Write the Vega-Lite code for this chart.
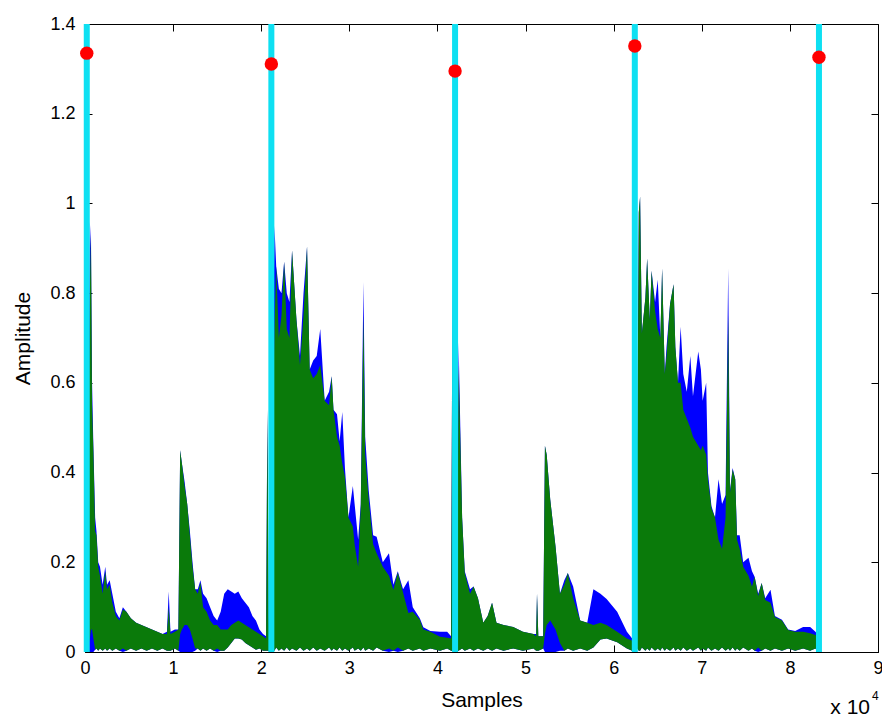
{
  "$schema": "https://vega.github.io/schema/vega-lite/v6.json",
  "width": 793,
  "height": 628,
  "autosize": "none",
  "padding": {"left": 85, "top": 24, "right": 4, "bottom": 66},
  "background": "white",
  "config": {
    "view": {"stroke": "#000000", "strokeWidth": 1},
    "axis": {
      "grid": false,
      "labelFont": "Liberation Sans",
      "titleFont": "Liberation Sans",
      "labelColor": "#000000",
      "titleColor": "#000000",
      "tickColor": "#000000",
      "domainColor": "#000000",
      "titleFontWeight": "normal",
      "labelFontSize": 18,
      "titleFontSize": 21,
      "tickSize": -7,
      "zindex": 1
    }
  },
  "datasets": {
    "sig": [
      {"s":300,"b":0.30,"g":0.30,"bl":0,"gl":0.01},
      {"s":550,"b":0.96,"g":0.80,"bl":0,"gl":0.03},
      {"s":680,"b":0.90,"g":0.93,"bl":0,"gl":0.05},
      {"s":800,"b":0.60,"g":0.55,"bl":0,"gl":0.05},
      {"s":950,"b":0.46,"g":0.45,"bl":0,"gl":0.03},
      {"s":1150,"b":0.30,"g":0.27,"bl":0.005,"gl":0.005},
      {"s":1300,"b":0.27,"g":0.26,"bl":0.008,"gl":0.008},
      {"s":1500,"b":0.20,"g":0.19,"bl":0.003,"gl":0.003},
      {"s":1700,"b":0.19,"g":0.17,"bl":0.008,"gl":0.008},
      {"s":2000,"b":0.15,"g":0.13,"bl":0.003,"gl":0.003},
      {"s":2300,"b":0.19,"g":0.18,"bl":0.008,"gl":0.008},
      {"s":2500,"b":0.15,"g":0.14,"bl":0.003,"gl":0.003},
      {"s":2800,"b":0.16,"g":0.15,"bl":0.008,"gl":0.008},
      {"s":3100,"b":0.13,"g":0.11,"bl":0.003,"gl":0.003},
      {"s":3500,"b":0.09,"g":0.08,"bl":0.008,"gl":0.008},
      {"s":3900,"b":0.075,"g":0.07,"bl":0.003,"gl":0.003},
      {"s":4300,"b":0.10,"g":0.095,"bl":0,"gl":0.008},
      {"s":4700,"b":0.09,"g":0.09,"bl":0.003,"gl":0.003},
      {"s":5200,"b":0.075,"g":0.075,"bl":0.008,"gl":0.008},
      {"s":5800,"b":0.065,"g":0.065,"bl":0.003,"gl":0.003},
      {"s":6400,"b":0.06,"g":0.06,"bl":0.008,"gl":0.008},
      {"s":7000,"b":0.055,"g":0.055,"bl":0.003,"gl":0.003},
      {"s":7600,"b":0.05,"g":0.05,"bl":0.008,"gl":0.008},
      {"s":8200,"b":0.045,"g":0.045,"bl":0.003,"gl":0.003},
      {"s":8800,"b":0.04,"g":0.04,"bl":0.008,"gl":0.008},
      {"s":9300,"b":0.045,"g":0.04,"bl":0.003,"gl":0.003},
      {"s":9500,"b":0.135,"g":0.10,"bl":0.003,"gl":0.003},
      {"s":9700,"b":0.045,"g":0.04,"bl":0.003,"gl":0.003},
      {"s":10200,"b":0.05,"g":0.045,"bl":0.008,"gl":0.008},
      {"s":10600,"b":0.05,"g":0.05,"bl":0.003,"gl":0.003},
      {"s":10800,"b":0.45,"g":0.45,"bl":0,"gl":0.04},
      {"s":11000,"b":0.42,"g":0.42,"bl":0,"gl":0.05},
      {"s":11300,"b":0.38,"g":0.37,"bl":0,"gl":0.06},
      {"s":11600,"b":0.33,"g":0.33,"bl":0,"gl":0.06},
      {"s":11900,"b":0.27,"g":0.26,"bl":0,"gl":0.05},
      {"s":12200,"b":0.20,"g":0.19,"bl":0,"gl":0.03},
      {"s":12500,"b":0.14,"g":0.14,"bl":0.003,"gl":0.008},
      {"s":12800,"b":0.14,"g":0.13,"bl":0.008,"gl":0.008},
      {"s":13100,"b":0.16,"g":0.155,"bl":0.003,"gl":0.003},
      {"s":13400,"b":0.13,"g":0.10,"bl":0.008,"gl":0.008},
      {"s":13800,"b":0.12,"g":0.09,"bl":0.003,"gl":0.003},
      {"s":14200,"b":0.10,"g":0.07,"bl":0.008,"gl":0.008},
      {"s":14600,"b":0.08,"g":0.06,"bl":0.003,"gl":0.003},
      {"s":15000,"b":0.07,"g":0.06,"bl":0,"gl":0.008},
      {"s":15400,"b":0.09,"g":0.05,"bl":0.003,"gl":0.003},
      {"s":15800,"b":0.13,"g":0.05,"bl":0.003,"gl":0.003},
      {"s":16200,"b":0.14,"g":0.05,"bl":0.01,"gl":0.01},
      {"s":16600,"b":0.135,"g":0.06,"bl":0.02,"gl":0.02},
      {"s":17000,"b":0.13,"g":0.065,"bl":0.03,"gl":0.03},
      {"s":17400,"b":0.135,"g":0.07,"bl":0.03,"gl":0.03},
      {"s":17800,"b":0.12,"g":0.065,"bl":0.028,"gl":0.028},
      {"s":18200,"b":0.11,"g":0.06,"bl":0.02,"gl":0.02},
      {"s":18600,"b":0.10,"g":0.055,"bl":0.015,"gl":0.015},
      {"s":19000,"b":0.08,"g":0.05,"bl":0.01,"gl":0.01},
      {"s":19400,"b":0.07,"g":0.045,"bl":0.005,"gl":0.005},
      {"s":19800,"b":0.05,"g":0.04,"bl":0.008,"gl":0.008},
      {"s":20200,"b":0.04,"g":0.035,"bl":0.003,"gl":0.003},
      {"s":20550,"b":0.035,"g":0.03,"bl":0.003,"gl":0.003},
      {"s":20700,"b":0.54,"g":0.54,"bl":0.003,"gl":0.003},
      {"s":20850,"b":0.05,"g":0.05,"bl":0.003,"gl":0.003},
      {"s":21200,"b":0.35,"g":0.35,"bl":0.008,"gl":0.008},
      {"s":21500,"b":0.95,"g":0.72,"bl":0.003,"gl":0.003},
      {"s":21700,"b":0.86,"g":0.86,"bl":0.01,"gl":0.01},
      {"s":22000,"b":0.81,"g":0.70,"bl":0.003,"gl":0.003},
      {"s":22300,"b":0.80,"g":0.75,"bl":0.008,"gl":0.008},
      {"s":22600,"b":0.87,"g":0.87,"bl":0.003,"gl":0.003},
      {"s":22900,"b":0.80,"g":0.72,"bl":0.01,"gl":0.01},
      {"s":23200,"b":0.78,"g":0.70,"bl":0.003,"gl":0.003},
      {"s":23500,"b":0.895,"g":0.895,"bl":0.008,"gl":0.008},
      {"s":24000,"b":0.74,"g":0.74,"bl":0.003,"gl":0.003},
      {"s":24400,"b":0.66,"g":0.64,"bl":0.01,"gl":0.01},
      {"s":24800,"b":0.80,"g":0.75,"bl":0.003,"gl":0.003},
      {"s":25200,"b":0.904,"g":0.904,"bl":0.008,"gl":0.008},
      {"s":25500,"b":0.63,"g":0.63,"bl":0.003,"gl":0.003},
      {"s":25900,"b":0.65,"g":0.61,"bl":0.01,"gl":0.01},
      {"s":26300,"b":0.66,"g":0.62,"bl":0.003,"gl":0.003},
      {"s":26700,"b":0.72,"g":0.64,"bl":0.008,"gl":0.008},
      {"s":27200,"b":0.56,"g":0.56,"bl":0.003,"gl":0.003},
      {"s":27700,"b":0.58,"g":0.55,"bl":0.01,"gl":0.01},
      {"s":28000,"b":0.615,"g":0.615,"bl":0.003,"gl":0.003},
      {"s":28200,"b":0.54,"g":0.54,"bl":0.008,"gl":0.008},
      {"s":28600,"b":0.53,"g":0.48,"bl":0.003,"gl":0.003},
      {"s":28900,"b":0.47,"g":0.46,"bl":0.01,"gl":0.01},
      {"s":29200,"b":0.535,"g":0.42,"bl":0.003,"gl":0.003},
      {"s":29500,"b":0.41,"g":0.39,"bl":0.008,"gl":0.008},
      {"s":29900,"b":0.30,"g":0.30,"bl":0.003,"gl":0.003},
      {"s":30400,"b":0.37,"g":0.28,"bl":0.01,"gl":0.01},
      {"s":30600,"b":0.33,"g":0.24,"bl":0.003,"gl":0.003},
      {"s":31000,"b":0.25,"g":0.19,"bl":0.008,"gl":0.008},
      {"s":31300,"b":0.33,"g":0.325,"bl":0.003,"gl":0.003},
      {"s":31600,"b":0.825,"g":0.75,"bl":0.01,"gl":0.01},
      {"s":31800,"b":0.48,"g":0.44,"bl":0.003,"gl":0.003},
      {"s":32200,"b":0.36,"g":0.34,"bl":0.008,"gl":0.008},
      {"s":32700,"b":0.26,"g":0.24,"bl":0.003,"gl":0.003},
      {"s":33100,"b":0.257,"g":0.22,"bl":0.01,"gl":0.01},
      {"s":33800,"b":0.20,"g":0.19,"bl":0.003,"gl":0.003},
      {"s":34500,"b":0.22,"g":0.17,"bl":0,"gl":0.008},
      {"s":35000,"b":0.15,"g":0.139,"bl":0.003,"gl":0.003},
      {"s":35500,"b":0.18,"g":0.177,"bl":0,"gl":0.01},
      {"s":36100,"b":0.14,"g":0.132,"bl":0.003,"gl":0.003},
      {"s":36700,"b":0.16,"g":0.087,"bl":0.008,"gl":0.008},
      {"s":37200,"b":0.10,"g":0.09,"bl":0.003,"gl":0.003},
      {"s":38000,"b":0.075,"g":0.072,"bl":0.008,"gl":0.008},
      {"s":38400,"b":0.055,"g":0.05,"bl":0.003,"gl":0.003},
      {"s":39200,"b":0.047,"g":0.045,"bl":0.008,"gl":0.008},
      {"s":40300,"b":0.045,"g":0.034,"bl":0.003,"gl":0.003},
      {"s":41100,"b":0.045,"g":0.032,"bl":0.008,"gl":0.008},
      {"s":41550,"b":0.035,"g":0.03,"bl":0.003,"gl":0.003},
      {"s":41700,"b":0.83,"g":0.83,"bl":0.003,"gl":0.003},
      {"s":41850,"b":0.05,"g":0.05,"bl":0.003,"gl":0.003},
      {"s":42300,"b":0.30,"g":0.30,"bl":0.003,"gl":0.003},
      {"s":42400,"b":0.69,"g":0.64,"bl":0.003,"gl":0.003},
      {"s":42800,"b":0.30,"g":0.30,"bl":0.008,"gl":0.008},
      {"s":43100,"b":0.18,"g":0.176,"bl":0.003,"gl":0.003},
      {"s":43700,"b":0.14,"g":0.13,"bl":0.008,"gl":0.008},
      {"s":44100,"b":0.146,"g":0.146,"bl":0.003,"gl":0.003},
      {"s":44600,"b":0.12,"g":0.12,"bl":0.008,"gl":0.008},
      {"s":45200,"b":0.065,"g":0.065,"bl":0.003,"gl":0.003},
      {"s":45700,"b":0.08,"g":0.08,"bl":0.008,"gl":0.008},
      {"s":46200,"b":0.11,"g":0.11,"bl":0.003,"gl":0.003},
      {"s":46700,"b":0.065,"g":0.065,"bl":0.008,"gl":0.008},
      {"s":47500,"b":0.06,"g":0.06,"bl":0.003,"gl":0.003},
      {"s":48600,"b":0.056,"g":0.056,"bl":0.008,"gl":0.008},
      {"s":49700,"b":0.045,"g":0.045,"bl":0.003,"gl":0.003},
      {"s":50900,"b":0.04,"g":0.04,"bl":0.008,"gl":0.008},
      {"s":51200,"b":0.04,"g":0.035,"bl":0.003,"gl":0.003},
      {"s":51300,"b":0.13,"g":0.13,"bl":0.003,"gl":0.003},
      {"s":51450,"b":0.035,"g":0.035,"bl":0.003,"gl":0.003},
      {"s":52000,"b":0.035,"g":0.035,"bl":0.008,"gl":0.008},
      {"s":52200,"b":0.46,"g":0.46,"bl":0,"gl":0.04},
      {"s":52400,"b":0.44,"g":0.44,"bl":0,"gl":0.06},
      {"s":52800,"b":0.34,"g":0.34,"bl":0,"gl":0.07},
      {"s":53400,"b":0.235,"g":0.235,"bl":0,"gl":0.05},
      {"s":53900,"b":0.13,"g":0.13,"bl":0.003,"gl":0.02},
      {"s":54400,"b":0.16,"g":0.15,"bl":0.003,"gl":0.003},
      {"s":54800,"b":0.176,"g":0.176,"bl":0.008,"gl":0.008},
      {"s":55400,"b":0.146,"g":0.12,"bl":0.003,"gl":0.003},
      {"s":56200,"b":0.07,"g":0.07,"bl":0.008,"gl":0.008},
      {"s":57000,"b":0.065,"g":0.065,"bl":0.003,"gl":0.003},
      {"s":57700,"b":0.14,"g":0.06,"bl":0.01,"gl":0.01},
      {"s":58500,"b":0.13,"g":0.065,"bl":0.028,"gl":0.028},
      {"s":59200,"b":0.118,"g":0.06,"bl":0.03,"gl":0.03},
      {"s":60400,"b":0.09,"g":0.045,"bl":0.022,"gl":0.022},
      {"s":61500,"b":0.045,"g":0.03,"bl":0.008,"gl":0.008},
      {"s":62100,"b":0.03,"g":0.025,"bl":0.003,"gl":0.003},
      {"s":62700,"b":0.5,"g":0.5,"bl":0.008,"gl":0.008},
      {"s":62850,"b":0.98,"g":0.98,"bl":0.003,"gl":0.003},
      {"s":63000,"b":1.015,"g":1.015,"bl":0.003,"gl":0.003},
      {"s":63200,"b":0.71,"g":0.71,"bl":0.01,"gl":0.01},
      {"s":63600,"b":0.79,"g":0.79,"bl":0.003,"gl":0.003},
      {"s":63800,"b":0.877,"g":0.877,"bl":0.008,"gl":0.008},
      {"s":64100,"b":0.74,"g":0.74,"bl":0.003,"gl":0.003},
      {"s":64300,"b":0.85,"g":0.85,"bl":0.01,"gl":0.01},
      {"s":64700,"b":0.78,"g":0.76,"bl":0.003,"gl":0.003},
      {"s":65000,"b":0.83,"g":0.72,"bl":0.008,"gl":0.008},
      {"s":65300,"b":0.70,"g":0.70,"bl":0.003,"gl":0.003},
      {"s":65500,"b":0.855,"g":0.855,"bl":0.01,"gl":0.01},
      {"s":65800,"b":0.62,"g":0.62,"bl":0.003,"gl":0.003},
      {"s":66000,"b":0.68,"g":0.66,"bl":0.008,"gl":0.008},
      {"s":66400,"b":0.776,"g":0.776,"bl":0.003,"gl":0.003},
      {"s":66800,"b":0.82,"g":0.82,"bl":0.01,"gl":0.01},
      {"s":67000,"b":0.68,"g":0.68,"bl":0.003,"gl":0.003},
      {"s":67300,"b":0.60,"g":0.60,"bl":0.008,"gl":0.008},
      {"s":67600,"b":0.725,"g":0.60,"bl":0.003,"gl":0.003},
      {"s":67900,"b":0.62,"g":0.54,"bl":0.01,"gl":0.01},
      {"s":68300,"b":0.58,"g":0.52,"bl":0.003,"gl":0.003},
      {"s":68700,"b":0.66,"g":0.50,"bl":0.008,"gl":0.008},
      {"s":69000,"b":0.57,"g":0.48,"bl":0.003,"gl":0.003},
      {"s":69600,"b":0.67,"g":0.46,"bl":0.01,"gl":0.01},
      {"s":69900,"b":0.63,"g":0.45,"bl":0.003,"gl":0.003},
      {"s":70100,"b":0.56,"g":0.46,"bl":0.008,"gl":0.008},
      {"s":70500,"b":0.60,"g":0.44,"bl":0.003,"gl":0.003},
      {"s":70700,"b":0.40,"g":0.385,"bl":0.01,"gl":0.01},
      {"s":71100,"b":0.325,"g":0.32,"bl":0.003,"gl":0.003},
      {"s":71500,"b":0.30,"g":0.30,"bl":0.008,"gl":0.008},
      {"s":71900,"b":0.385,"g":0.25,"bl":0.003,"gl":0.003},
      {"s":72300,"b":0.33,"g":0.23,"bl":0.01,"gl":0.01},
      {"s":72700,"b":0.35,"g":0.30,"bl":0.003,"gl":0.003},
      {"s":73000,"b":0.855,"g":0.75,"bl":0.008,"gl":0.008},
      {"s":73200,"b":0.36,"g":0.355,"bl":0.003,"gl":0.003},
      {"s":73500,"b":0.41,"g":0.407,"bl":0.01,"gl":0.01},
      {"s":73800,"b":0.385,"g":0.385,"bl":0.003,"gl":0.003},
      {"s":74000,"b":0.26,"g":0.25,"bl":0.008,"gl":0.008},
      {"s":74300,"b":0.26,"g":0.23,"bl":0.003,"gl":0.003},
      {"s":74700,"b":0.20,"g":0.19,"bl":0.01,"gl":0.01},
      {"s":75300,"b":0.21,"g":0.17,"bl":0.003,"gl":0.003},
      {"s":75700,"b":0.18,"g":0.146,"bl":0.008,"gl":0.008},
      {"s":76000,"b":0.168,"g":0.168,"bl":0.003,"gl":0.003},
      {"s":76400,"b":0.13,"g":0.125,"bl":0,"gl":0.01},
      {"s":76800,"b":0.154,"g":0.154,"bl":0.003,"gl":0.003},
      {"s":77200,"b":0.12,"g":0.116,"bl":0.008,"gl":0.008},
      {"s":77800,"b":0.139,"g":0.11,"bl":0.003,"gl":0.003},
      {"s":78300,"b":0.08,"g":0.078,"bl":0.008,"gl":0.008},
      {"s":79100,"b":0.072,"g":0.07,"bl":0.003,"gl":0.003},
      {"s":79800,"b":0.05,"g":0.049,"bl":0.008,"gl":0.008},
      {"s":80600,"b":0.047,"g":0.045,"bl":0.003,"gl":0.003},
      {"s":81500,"b":0.056,"g":0.045,"bl":0.008,"gl":0.008},
      {"s":82300,"b":0.056,"g":0.042,"bl":0.003,"gl":0.003},
      {"s":82900,"b":0.045,"g":0.038,"bl":0.008,"gl":0.008},
      {"s":83100,"b":0.04,"g":0.035,"bl":0.003,"gl":0.003}
    ],
    "onsets": [
      {"s":200,"a":1.335},
      {"s":21150,"a":1.311},
      {"s":42000,"a":1.295},
      {"s":62400,"a":1.351},
      {"s":83300,"a":1.326}
    ],
    "one": [{"k": 1}]
  },
  "resolve": {"axis": {"x": "independent", "y": "independent"}},
  "layer": [
    {
      "data": {"name": "sig"},
      "mark": {"type": "area", "color": "#0000FF", "interpolate": "linear"},
      "encoding": {
        "x": {"field": "s", "type": "quantitative",
              "scale": {"domain": [0, 90000], "nice": false, "zero": false},
              "axis": {"orient": "bottom", "values": [0,10000,20000,30000,40000,50000,60000,70000,80000,90000],
                       "labelExpr": "format(datum.value / 10000, 'd')", "labelFlush": false,
                       "labelPadding": 14, "title": "Samples", "titlePadding": 12, "domain": true}},
        "y": {"field": "b", "type": "quantitative",
              "scale": {"domain": [0, 1.4], "nice": false, "zero": false},
              "axis": {"orient": "left", "values": [0,0.2,0.4,0.6,0.8,1,1.2,1.4], "format": "~g",
                       "labelPadding": 17, "title": "Amplitude", "titlePadding": 16, "domain": false}},
        "y2": {"field": "bl"}
      }
    },
    {
      "data": {"name": "sig"},
      "mark": {"type": "area", "color": "#0A7A0A", "interpolate": "linear"},
      "encoding": {
        "x": {"field": "s", "type": "quantitative", "axis": null},
        "y": {"field": "g", "type": "quantitative", "axis": null},
        "y2": {"field": "gl"}
      }
    },
    {
      "data": {"name": "onsets"},
      "mark": {"type": "rule", "color": "#0EE0F2", "strokeWidth": 6},
      "encoding": {
        "x": {"field": "s", "type": "quantitative", "axis": null}
      }
    },
    {
      "data": {"name": "onsets"},
      "mark": {"type": "circle", "color": "#FF0000", "opacity": 1, "size": 180},
      "encoding": {
        "x": {"field": "s", "type": "quantitative",
              "axis": {"orient": "top", "values": [0,10000,20000,30000,40000,50000,60000,70000,80000,90000],
                       "labels": false, "title": null, "domain": false}},
        "y": {"field": "a", "type": "quantitative",
              "axis": {"orient": "right", "values": [0,0.2,0.4,0.6,0.8,1,1.2,1.4],
                       "labels": false, "title": null, "domain": false}}
      }
    },
    {
      "data": {"name": "one"},
      "mark": {"type": "text", "text": "x 10", "font": "Liberation Sans", "fontSize": 21, "align": "right", "baseline": "alphabetic", "dx": -8, "dy": 62, "color": "#000000"},
      "encoding": {
        "x": {"datum": 90000, "type": "quantitative", "axis": null},
        "y": {"datum": 0, "type": "quantitative", "axis": null}
      }
    },
    {
      "data": {"name": "one"},
      "mark": {"type": "text", "text": "4", "font": "Liberation Sans", "fontSize": 12, "align": "left", "baseline": "alphabetic", "dx": -6, "dy": 48, "color": "#000000"},
      "encoding": {
        "x": {"datum": 90000, "type": "quantitative", "axis": null},
        "y": {"datum": 0, "type": "quantitative", "axis": null}
      }
    }
  ]
}
